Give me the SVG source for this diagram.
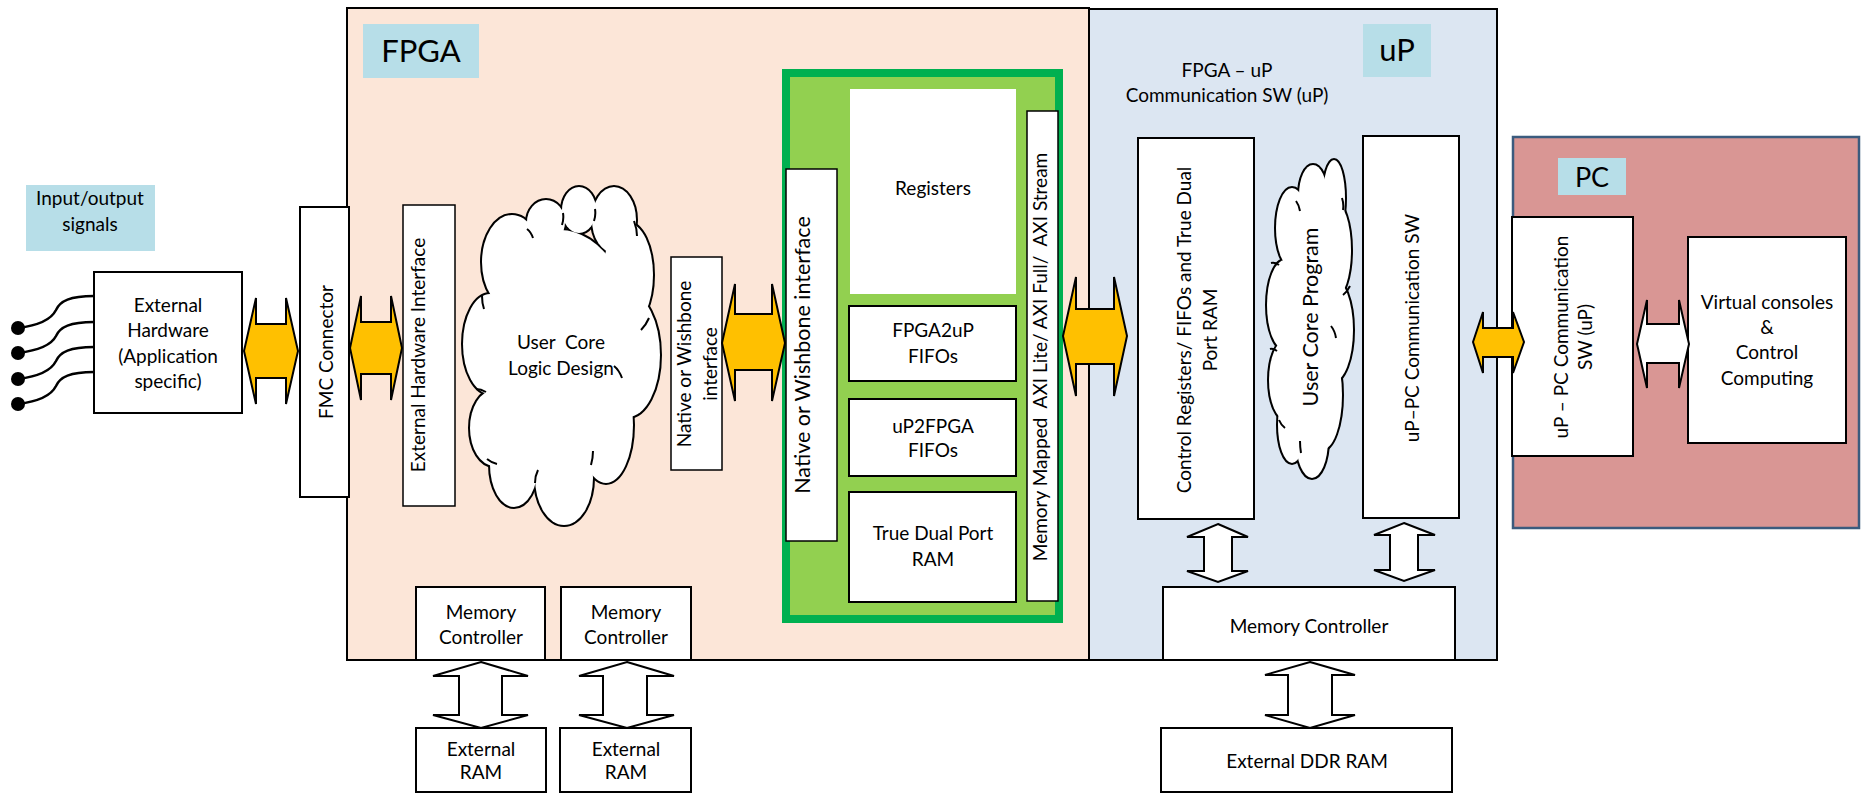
<svg xmlns="http://www.w3.org/2000/svg" xmlns:xlink="http://www.w3.org/1999/xlink" width="1864" height="793" viewBox="0 0 1864 793">
<style>
.box{fill:#fff;stroke:#000;stroke-width:2}
.thin{fill:#fff;stroke:#000;stroke-width:1.5}
.lbl{fill:#B7DEE8;stroke:none}
.t{font-family:Lato,'Liberation Sans',sans-serif;font-size:19px;fill:#000;text-anchor:middle}
.big{font-size:21.5px}
.title{font-size:31px}
.orange{fill:#FFC000;stroke:#000;stroke-width:2;stroke-linejoin:miter}
.white{fill:#fff;stroke:#000;stroke-width:2;stroke-linejoin:miter}
.wire{fill:none;stroke:#000;stroke-width:2.5}
.stub{fill:none;stroke:#000;stroke-width:2}
</style>
<defs>
<g id="cloudA">
<ellipse cx="490" cy="344" rx="27" ry="50"/>
<ellipse cx="512" cy="262" rx="30" ry="47"/>
<ellipse cx="546" cy="222" rx="19" ry="22"/>
<ellipse cx="579" cy="210" rx="17" ry="23"/>
<ellipse cx="614" cy="220" rx="22" ry="33"/>
<ellipse cx="628" cy="275" rx="25" ry="52"/>
<ellipse cx="628" cy="355" rx="32" ry="62"/>
<ellipse cx="606" cy="425" rx="27" ry="58"/>
<ellipse cx="564" cy="478" rx="29" ry="47"/>
<ellipse cx="514" cy="465" rx="24" ry="42"/>
<ellipse cx="494" cy="428" rx="24" ry="38"/>
<ellipse cx="560" cy="355" rx="78" ry="125"/>
</g>
<g id="cloudB">
<ellipse cx="1292" cy="228" rx="16" ry="40"/>
<ellipse cx="1313" cy="195" rx="14" ry="30"/>
<ellipse cx="1334" cy="198" rx="11" ry="38"/>
<ellipse cx="1335" cy="250" rx="16" ry="48"/>
<ellipse cx="1333" cy="330" rx="20" ry="52"/>
<ellipse cx="1322" cy="395" rx="20" ry="55"/>
<ellipse cx="1312" cy="440" rx="16" ry="38"/>
<ellipse cx="1292" cy="425" rx="14" ry="38"/>
<ellipse cx="1286" cy="380" rx="17" ry="40"/>
<ellipse cx="1285" cy="305" rx="18" ry="45"/>
<ellipse cx="1310" cy="318" rx="30" ry="125"/>
</g>
</defs>

<rect width="1864" height="793" fill="#fff"/>

<g id="fpga">
<rect x="347" y="8" width="742" height="652" fill="#FCE6D8" stroke="#000" stroke-width="2"/>
<rect class="lbl" x="363" y="24" width="116" height="54"/>
<text class="t title" x="421" y="62">FPGA</text>
</g>

<g id="up">
<rect x="1089" y="9" width="408" height="651" fill="#DCE6F2" stroke="#000" stroke-width="2"/>
<rect class="lbl" x="1363" y="24" width="68" height="53"/>
<text class="t title" x="1397" y="61">uP</text>
<text class="t" x="1227" y="77">FPGA – uP</text>
<text class="t" x="1227" y="102">Communication SW (uP)</text>
</g>

<g id="pc">
<rect x="1513" y="137" width="346" height="391" fill="#D99694" stroke="#3B5B7E" stroke-width="2.5"/>
<rect class="lbl" x="1558" y="158" width="68" height="37"/>
<text class="t" style="font-size:27px" x="1592" y="187">PC</text>
</g>

<g id="io-signals">
<rect class="lbl" x="26" y="185" width="129" height="66"/>
<text class="t" x="90" y="205">Input/output</text>
<text class="t" x="90" y="231">signals</text>
</g>

<g id="external-hardware">
<rect class="box" x="94" y="272" width="148" height="141"/>
<text class="t" x="168" y="312">External</text>
<text class="t" x="168" y="337">Hardware</text>
<text class="t" x="168" y="363">(Application</text>
<text class="t" x="168" y="388">specific)</text>
</g>

<g id="fmc-connector">
<rect class="box" x="300" y="207" width="49" height="290"/>
<text class="t" transform="translate(333,352) rotate(-90)">FMC Connector</text>
</g>

<g id="ext-hw-interface">
<rect class="thin" x="403" y="205" width="52" height="301"/>
<text class="t" transform="translate(425,355) rotate(-90)">External Hardware Interface</text>
</g>

<g id="user-core-logic">
<use xlink:href="#cloudA" fill="#fff" stroke="#000" stroke-width="4"/>
<use xlink:href="#cloudA" fill="#fff" stroke="none"/>
<path class="stub" d="M482,296 Q482,303 484,309 M527,229 Q531,232 533,238 M563,213 Q564,219 562,225 M595,209 Q596,215 594,221 M634,221 Q637,229 637,236 M649,318 Q646,325 641,330 M614,366 Q619,370 622,378 M593,451 Q593,458 591,465 M538,470 Q535,476 535,483 M487,459 Q492,463 497,464 M476,389 Q481,389 486,392"/>
<text class="t" x="561" y="349" xml:space="preserve">User  Core</text>
<text class="t" x="561" y="375">Logic Design</text>
</g>

<g id="native-small">
<rect class="thin" x="671" y="257" width="51" height="213"/>
<text class="t" transform="translate(691,364) rotate(-90)">Native or Wishbone</text>
<text class="t" transform="translate(717,364) rotate(-90)">interface</text>
</g>

<g id="interface-block">
<rect x="786" y="73" width="273" height="546" fill="#92D050" stroke="#00B050" stroke-width="8"/>
</g>

<g id="native-large">
<rect class="thin" x="786" y="169" width="51" height="372"/>
<text class="t big" transform="translate(810,355) rotate(-90)">Native or Wishbone interface</text>
</g>

<g id="registers">
<rect x="850" y="89" width="166" height="205" fill="#fff"/>
<text class="t" x="933" y="195">Registers</text>
</g>

<g id="fpga2up-fifos">
<rect class="box" x="849" y="306" width="167" height="75"/>
<text class="t" x="933" y="337">FPGA2uP</text>
<text class="t" x="933" y="363">FIFOs</text>
</g>

<g id="up2fpga-fifos">
<rect class="box" x="849" y="399" width="167" height="77"/>
<text class="t" x="933" y="433">uP2FPGA</text>
<text class="t" x="933" y="457">FIFOs</text>
</g>

<g id="true-dual-port-ram">
<rect class="box" x="849" y="492" width="167" height="110"/>
<text class="t" x="933" y="540">True Dual Port</text>
<text class="t" x="933" y="566">RAM</text>
</g>

<g id="axi-interface">
<rect class="thin" x="1027" y="111" width="31" height="490"/>
<text class="t" transform="translate(1047,357) rotate(-90)" xml:space="preserve">Memory Mapped  AXI Lite/ AXI Full/  AXI Stream</text>
</g>

<g id="fpga-mem-ctrl-1">
<rect class="box" x="416" y="587" width="129" height="73"/>
<text class="t" x="481" y="619">Memory</text>
<text class="t" x="481" y="644">Controller</text>
</g>

<g id="fpga-mem-ctrl-2">
<rect class="box" x="561" y="587" width="130" height="73"/>
<text class="t" x="626" y="619">Memory</text>
<text class="t" x="626" y="644">Controller</text>
</g>

<g id="external-ram-1">
<rect class="box" x="416" y="728" width="130" height="64"/>
<text class="t" x="481" y="756">External</text>
<text class="t" x="481" y="779">RAM</text>
</g>

<g id="external-ram-2">
<rect class="box" x="560" y="728" width="131" height="64"/>
<text class="t" x="626" y="756">External</text>
<text class="t" x="626" y="779">RAM</text>
</g>

<g id="control-registers">
<rect class="box" x="1138" y="138" width="116" height="381"/>
<text class="t" transform="translate(1191,330) rotate(-90)">Control Registers/ FIFOs and True Dual</text>
<text class="t" transform="translate(1217,330) rotate(-90)">Port RAM</text>
</g>

<g id="user-core-program">
<use xlink:href="#cloudB" fill="#fff" stroke="#000" stroke-width="4"/>
<use xlink:href="#cloudB" fill="#fff" stroke="none"/>
<path class="stub" d="M1296,201 Q1299,205 1300,211 M1342,198 Q1344,204 1343,210 M1350,286 Q1347,292 1343,295 M1331,326 Q1335,331 1336,338 M1300,441 Q1300,447 1301,453 M1279,420 Q1281,425 1285,428 M1270,349 Q1273,348 1277,351 M1271,263 Q1275,262 1279,265"/>
<text class="t big" transform="translate(1318,317) rotate(-90)">User Core Program</text>
</g>

<g id="up-pc-comm-sw">
<rect class="box" x="1363" y="136" width="96" height="382"/>
<text class="t" transform="translate(1419,328) rotate(-90)">uP–PC Communication SW</text>
</g>

<g id="up-mem-ctrl">
<rect class="box" x="1163" y="587" width="292" height="73"/>
<text class="t" x="1309" y="633">Memory Controller</text>
</g>

<g id="external-ddr-ram">
<rect class="box" x="1161" y="728" width="291" height="64"/>
<text class="t" x="1307" y="768">External DDR RAM</text>
</g>

<g id="pc-comm-sw">
<rect class="box" x="1512" y="217" width="121" height="239"/>
<text class="t" transform="translate(1568,337) rotate(-90)">uP – PC Communication</text>
<text class="t" transform="translate(1592,337) rotate(-90)">SW (uP)</text>
</g>

<g id="virtual-consoles">
<rect class="box" x="1688" y="237" width="158" height="206"/>
<text class="t" x="1767" y="309">Virtual consoles</text>
<text class="t" x="1767" y="334">&amp;</text>
<text class="t" x="1767" y="359">Control</text>
<text class="t" x="1767" y="385">Computing</text>
</g>

<g id="connectors">
<path class="wire" d="M18,328 C42,325 52,318 56,310 C60,301 70,296 94,296"/>
<path class="wire" d="M18,353 C42,350 52,344 56,336 C60,327 70,322 94,322"/>
<path class="wire" d="M18,379 C42,376 52,369 56,361 C60,352 70,347 94,347"/>
<path class="wire" d="M18,404 C42,401 52,394 56,386 C60,377 70,372 94,372"/>
<circle cx="18" cy="328" r="7"/>
<circle cx="18" cy="353" r="7"/>
<circle cx="18" cy="379" r="7"/>
<circle cx="18" cy="404" r="7"/>
<polygon class="orange" points="244,351 256,298 256,324 286,324 286,298 298,351 286,404 286,378 256,378 256,404"/>
<polygon class="orange" points="350,348 361,296 361,322 391,322 391,296 402,348 391,400 391,374 361,374 361,400"/>
<polygon class="orange" points="722,343 735,284 735,314 772,314 772,284 785,343 772,401 772,370 735,370 735,401"/>
<polygon class="orange" points="1063,336 1076,277 1076,309 1114,309 1114,277 1127,336 1114,396 1114,364 1076,364 1076,396"/>
<polygon class="orange" points="1473,342 1483,312 1483,328 1513,328 1513,312 1524,342 1513,373 1513,357 1483,357 1483,373"/>
<polygon class="white" points="1637,344 1647,300 1647,324 1679,324 1679,300 1689,344 1679,388 1679,363 1647,363 1647,388"/>
<polygon class="white" points="481,662 528,676 502,676 502,715 528,715 481,728 433,715 459,715 459,676 433,676"/>
<polygon class="white" points="627,662 674,676 647,676 647,715 674,715 627,728 579,715 603,715 603,676 579,676"/>
<polygon class="white" points="1218,524 1248,537 1232,537 1232,571 1248,571 1218,582 1187,571 1204,571 1204,537 1187,537"/>
<polygon class="white" points="1404,523 1435,535 1418,535 1418,570 1435,570 1404,581 1374,570 1390,570 1390,535 1374,535"/>
<polygon class="white" points="1310,662 1355,675 1332,675 1332,715 1355,715 1310,728 1265,715 1288,715 1288,675 1265,675"/>
</g>
</svg>
